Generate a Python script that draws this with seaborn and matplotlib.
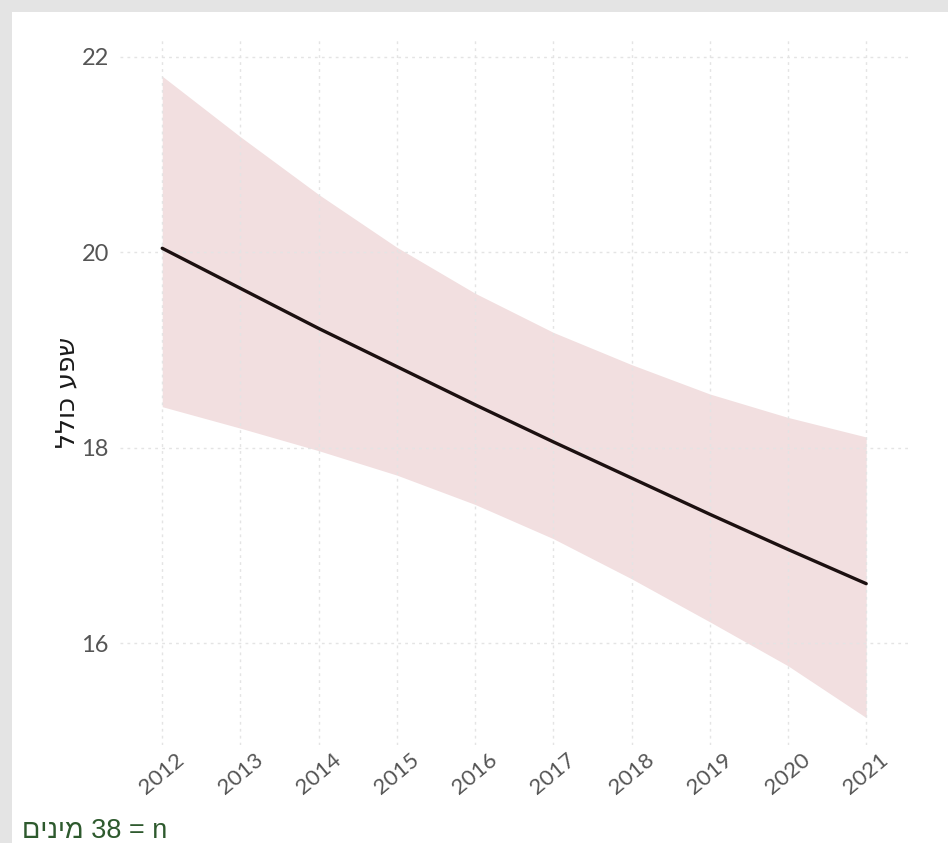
import numpy as np
import pandas as pd
import matplotlib
matplotlib.use("Agg")
import matplotlib.pyplot as plt
from matplotlib.patches import Rectangle
import seaborn as sns

# values
years = [2012, 2013, 2014, 2015, 2016, 2017, 2018, 2019, 2020, 2021]
fit = [20.04, 19.63, 19.22, 18.83, 18.44, 18.06, 17.69, 17.32, 16.96, 16.61]
upper = [21.80, 21.18, 20.59, 20.05, 19.58, 19.18, 18.85, 18.55, 18.31, 18.11]
lower = [18.42, 18.20, 17.97, 17.72, 17.42, 17.07, 16.66, 16.22, 15.77, 15.24]
y_ticks = [16, 18, 20, 22]

# Hebrew strings in visual (left-to-right) order, matplotlib has no bidi
y_label = "שפע כולל"[::-1]
caption = "מינים"[::-1] + " 38 = n"

df = pd.DataFrame({"year": years, "fit": fit, "upper": upper, "lower": lower})

sns.set_style("white")
plt.rcParams["font.family"] = ["Lato", "DejaVu Sans"]

W, H = 948, 843
fig = plt.figure(figsize=(W / 100, H / 100), dpi=100)
fig.patch.set_facecolor("#e4e4e4")
fig.patches.append(Rectangle((12 / W, 0), 1, 1 - 12 / H, transform=fig.transFigure,
                             facecolor="white", edgecolor="none", zorder=-10))

ax = fig.add_axes([120 / W, 1 - 745 / H, (910 - 120) / W, (745 - 40) / H])
ax.set_facecolor("none")

ax.fill_between(df["year"], df["lower"], df["upper"], color="#f2dfe0", lw=0, zorder=1)
sns.lineplot(data=df, x="year", y="fit", color="#1c1010", linewidth=2.4, ax=ax, zorder=3)

ax.set_xlim(2011.46, 2021.56)
ax.set_ylim(14.96, 22.17)
ax.set_xticks(years)
ax.set_yticks(y_ticks)
ax.set_xticklabels([str(y) for y in years], rotation=40, ha="center", va="top",
                   fontsize=16, color="#555555")
ax.set_yticklabels([str(v) for v in y_ticks], fontsize=17, color="#555555")
ax.tick_params(axis="both", length=0)
ax.tick_params(axis="x", pad=3)
ax.tick_params(axis="y", pad=8)

ax.set_axisbelow(False)
ax.grid(True, color="#e4e4e4", linestyle=(0, (2, 3)), linewidth=1, zorder=2)
for s in ax.spines.values():
    s.set_visible(False)

ax.set_xlabel("")
ax.set_ylabel(y_label, fontsize=19, color="#1a1a1a", family=["DejaVu Sans"], labelpad=1)

fig.text(22 / W, 1 - 831 / H, caption, fontsize=19.5, color="#2e5a2e",
         family=["Liberation Sans", "DejaVu Sans"], ha="left", va="center")

fig.savefig("out.png", dpi=100, facecolor=fig.get_facecolor())
